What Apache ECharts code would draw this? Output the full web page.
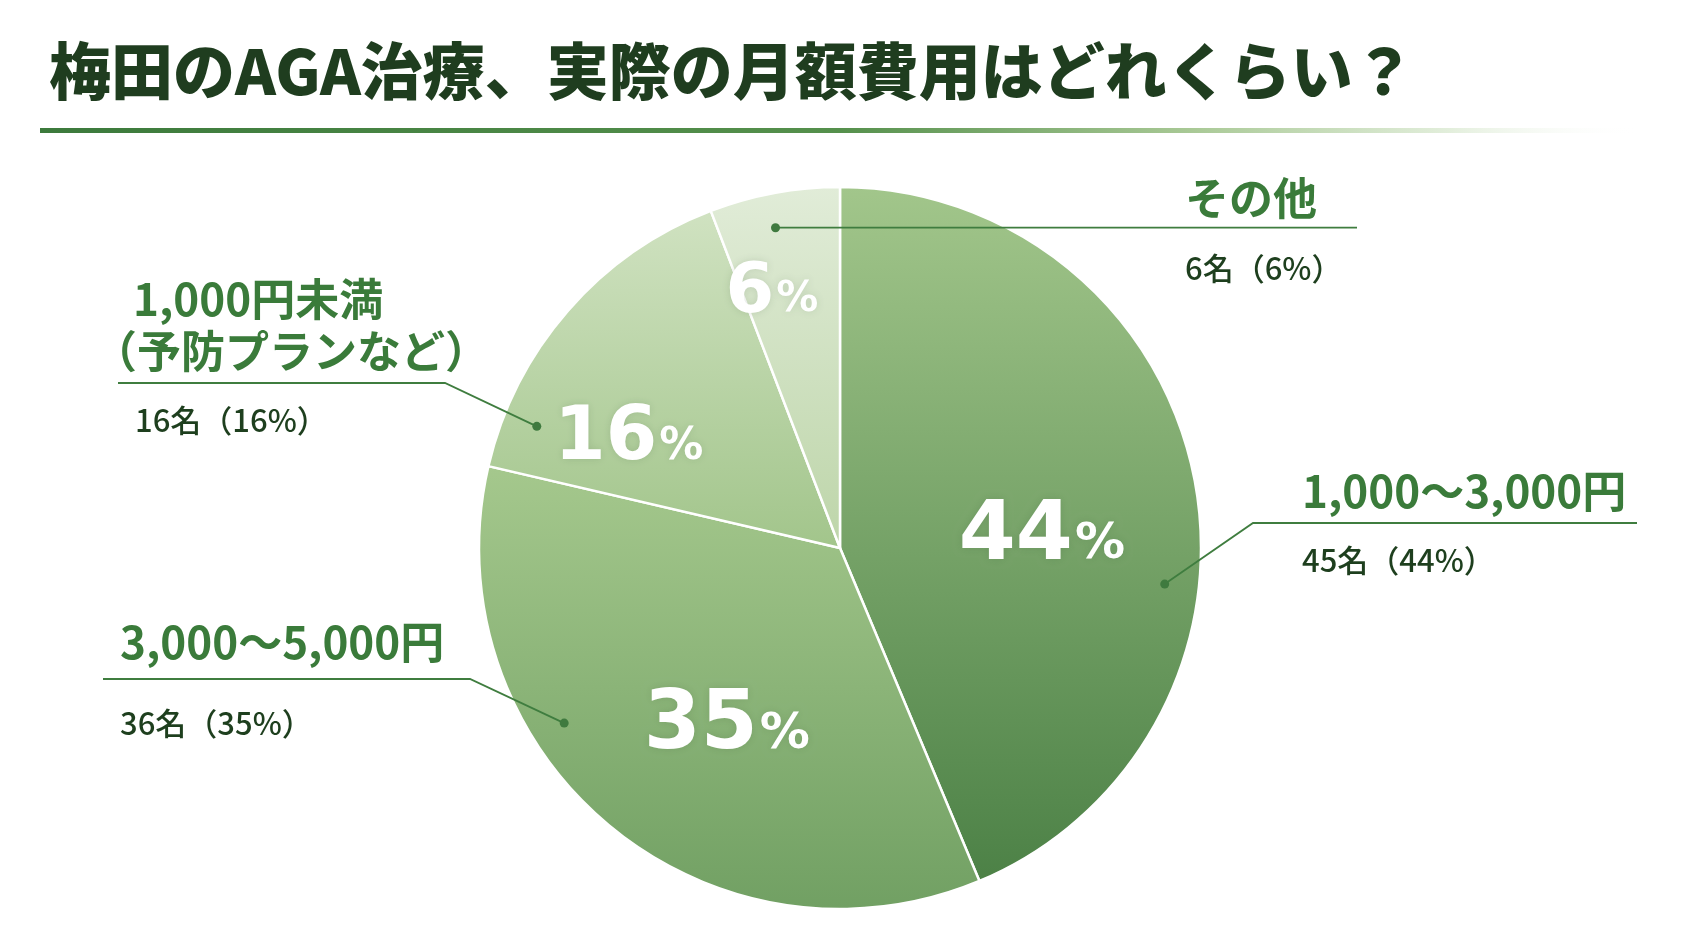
<!DOCTYPE html>
<html>
<head>
<meta charset="utf-8">
<script src="https://cdn.jsdelivr.net/npm/echarts@6/dist/echarts.min.js"></script>
<style>
html,body{margin:0;padding:0;background:#fff;}
#c{width:1693px;height:929px;}
</style>
</head>
<body>
<div id="c"></div>
<script>
// ---- data ----
const titleText = '梅田のAGA治療、実際の月額費用はどれくらい？';
const categories = ['1,000～3,000円', '3,000～5,000円', '1,000円未満\n（予防プランなど）', 'その他'];
const counts = [45, 36, 16, 6];
const percents = [44, 35, 16, 6];

// ---- layout / style ----
const CX = 840, CY = 548, R = 361;
const dotFrac = 0.905;
const dotAngleShift = [17.7, 17.4, -19.2, -0.9];      // degrees, annotation placement inside each slice
const inLabelFrac = [0.56, 0.587, 0.657, 0.73];
const inAngleShift = [8.3, -7.9, -14, -4.5];          // degrees
const inFont = [[82, 50], [82, 50], [74, 44], [70, 42]];
const outLayout = [
  { x: 1302, top: 461, bend: [1253, 523], end: 1637, h: ['hA'], s: 's0' },
  { x: 120, top: 612, bend: [470, 679], end: 103, h: ['hA'], s: 's1' },
  { x: 93, top: 273, bend: [445, 383], end: 118, h: ['hB1', 'hB'], s: 's2' },
  { x: 1185, top: 168, bend: null, end: 1357, h: ['hA'], s: 's3' }
];
const sliceGrad = [
  ['#a2c68b', '#4c8146'],
  ['#a5c88d', '#71a063'],
  ['#d0e2c1', '#a2c58b'],
  ['#e1ecd8', '#bdd5a9']
];

const total = counts.reduce((a, b) => a + b, 0);
const mids = [];
let acc = 0;
counts.forEach(v => { mids.push(acc + v / 2); acc += v; });
const degToVal = d => d / 360 * total;
const dotAngles = mids.map((m, i) => m + degToVal(dotAngleShift[i]));
const inAngles = mids.map((m, i) => m + degToVal(inAngleShift[i]));

const headFont = 'Noto Sans CJK JP';
const numFont = 'DejaVu Sans';
const chart = echarts.init(document.getElementById('c'), null, { renderer: 'canvas' });

const pieData = categories.map((name, i) => ({
  name: name,
  value: counts[i],
  itemStyle: {
    color: new echarts.graphic.LinearGradient(0, 0, 0, 1, [
      { offset: 0, color: sliceGrad[i][0] },
      { offset: 1, color: sliceGrad[i][1] }
    ])
  }
}));

const option = {
  animation: false,
  backgroundColor: '#ffffff',
  title: {
    text: titleText,
    left: 49,
    top: 40,
    padding: 0,
    textStyle: {
      fontFamily: headFont,
      fontSize: 62,
      fontWeight: 900,
      color: '#1f3d1f',
      lineHeight: 62
    }
  },
  graphic: [{
    type: 'rect',
    shape: { x: 40, y: 128, width: 1600, height: 5 },
    style: {
      fill: new echarts.graphic.LinearGradient(0, 0, 1, 0, [
        { offset: 0, color: '#3c7a3c' },
        { offset: 0.5, color: '#55904c' },
        { offset: 0.72, color: '#a9c996' },
        { offset: 0.88, color: '#e2eedb' },
        { offset: 1, color: 'rgba(255,255,255,0)' }
      ])
    },
    silent: true
  }],
  polar: { center: [CX, CY], radius: R },
  angleAxis: { type: 'value', min: 0, max: total, startAngle: 90, clockwise: true, show: false },
  radiusAxis: { type: 'value', min: 0, max: 1, show: false },
  series: [
    {
      type: 'pie',
      center: [CX, CY],
      radius: [0, R],
      startAngle: 90,
      clockwise: true,
      avoidLabelOverlap: false,
      silent: true,
      itemStyle: { borderColor: '#ffffff', borderWidth: 2.5 },
      data: pieData,
      label: {
        show: true,
        position: 'outside',
        fontFamily: headFont,
        color: '#1e3f1e',
        formatter: function (p) {
          const i = p.dataIndex;
          const L = outLayout[i];
          const heads = categories[i].split('\n').map((t, k) => '{' + L.h[k] + '|' + t + '}').join('\n');
          return heads + '\n{' + L.s + '|' + counts[i] + '名（' + percents[i] + '%）}';
        },
        rich: {
          hA: { fontFamily: headFont, fontSize: 44, fontWeight: 'bold', color: '#3a7b3a', lineHeight: 60 },
          hB1: { fontFamily: headFont, fontSize: 44, fontWeight: 'bold', color: '#3a7b3a', lineHeight: 52, padding: [0, 0, 0, 40] },
          hB: { fontFamily: headFont, fontSize: 44, fontWeight: 'bold', color: '#3a7b3a', lineHeight: 52 },
          s0: { fontFamily: headFont, fontSize: 31, fontWeight: 500, color: '#1e3f1e', lineHeight: 78 },
          s1: { fontFamily: headFont, fontSize: 31, fontWeight: 500, color: '#1e3f1e', lineHeight: 102 },
          s2: { fontFamily: headFont, fontSize: 31, fontWeight: 500, color: '#1e3f1e', lineHeight: 86, padding: [0, 0, 0, 42] },
          s3: { fontFamily: headFont, fontSize: 31, fontWeight: 500, color: '#1e3f1e', lineHeight: 80 }
        }
      },
      labelLine: { show: false },
      labelLayout: function (p) {
        const L = outLayout[p.dataIndex];
        return { x: L.x, y: L.top, align: 'left', verticalAlign: 'top' };
      }
    },
    {
      // leader lines with dots, anchored in the polar system that matches the pie
      type: 'custom',
      coordinateSystem: 'polar',
      z: 5,
      silent: true,
      data: dotAngles.map(a => [dotFrac, a]),
      renderItem: function (params, api) {
        const i = params.dataIndex;
        const p = api.coord([api.value(0), api.value(1)]);
        const L = outLayout[i];
        const pts = L.bend ? [p, L.bend, [L.end, L.bend[1]]] : [p, [L.end, p[1]]];
        return {
          type: 'group',
          children: [
            { type: 'polyline', shape: { points: pts }, style: { stroke: '#3f7d3f', lineWidth: 1.8, fill: null } },
            { type: 'circle', shape: { cx: p[0], cy: p[1], r: 4.5 }, style: { fill: '#3f7a3f' } }
          ]
        };
      }
    },
    {
      type: 'scatter',
      coordinateSystem: 'polar',
      z: 6,
      silent: true,
      symbolSize: 1,
      itemStyle: { color: 'rgba(0,0,0,0)', opacity: 1 },
      data: inAngles.map((a, i) => ({
        value: [inLabelFrac[i], a],
        label: {
          rich: {
            n: { fontSize: inFont[i][0], fontWeight: 'bold', color: '#ffffff', fontFamily: numFont,
                 textShadowColor: 'rgba(40,70,40,0.15)', textShadowBlur: 8 },
            p: { fontSize: inFont[i][1], fontWeight: 'bold', color: '#ffffff', fontFamily: numFont,
                 padding: [Math.round(inFont[i][0] * 0.2), 0, 0, 2],
                 textShadowColor: 'rgba(40,70,40,0.15)', textShadowBlur: 8 }
          }
        }
      })),
      label: {
        show: true,
        position: 'inside',
        opacity: 1,
        formatter: function (p) {
          return '{n|' + percents[p.dataIndex] + '}{p|%}';
        }
      }
    }
  ]
};
chart.setOption(option);
</script>
</body>
</html>
